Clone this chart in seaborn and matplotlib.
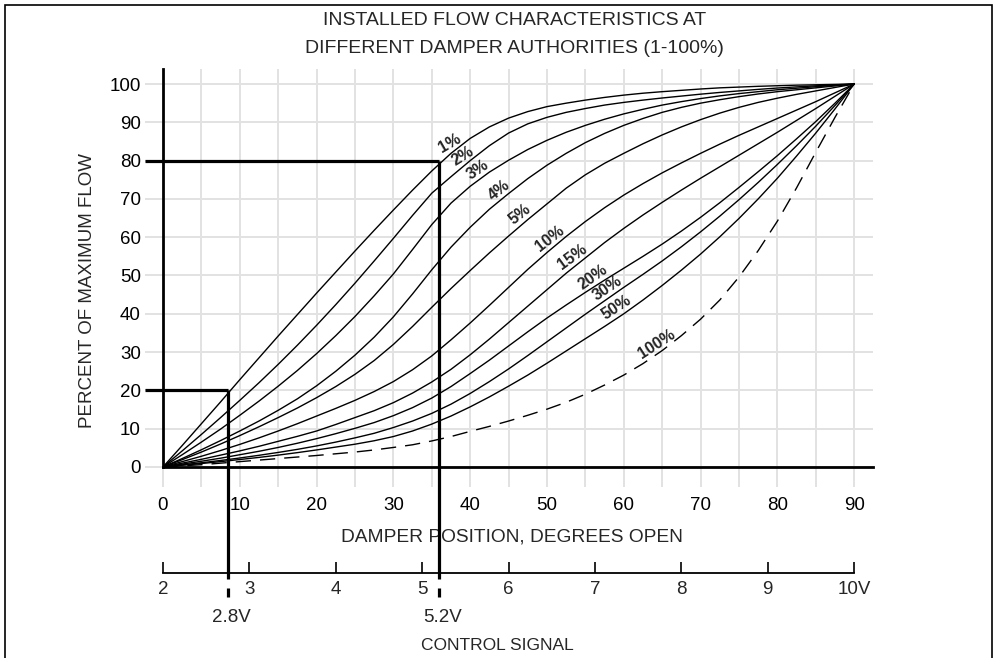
import numpy as np
import pandas as pd
import seaborn as sns
import matplotlib.pyplot as plt
from matplotlib.patches import Rectangle
from matplotlib.transforms import blended_transform_factory

# damper position (degrees open) at which the curves were read
degrees = [0, 2.5, 5, 7.5, 10, 12.5, 15, 17.5, 20, 22.5, 25, 27.5, 30, 32.5, 35, 37.5,
           40, 42.5, 45, 47.5, 50, 52.5, 55, 57.5, 60, 62.5, 65, 67.5, 70, 72.5, 75,
           77.5, 80, 82.5, 85, 87.5, 90]

# percent of maximum flow, one list per damper authority
flow_1 = [0, 5.6, 11.3, 17.0, 22.8, 28.5, 34.2, 39.8, 45.4, 50.9, 56.4, 61.8, 67.1, 72.3,
          77.3, 81.9, 85.8, 88.8, 91.1, 92.8, 94.1, 95.0, 95.8, 96.5, 97.1, 97.6, 98.0,
          98.35, 98.7, 99.0, 99.2, 99.4, 99.55, 99.7, 99.8, 99.9, 100]
flow_2 = [0, 4.2, 8.5, 12.9, 17.4, 22.0, 26.8, 31.8, 37.0, 42.4, 48.0, 53.8, 59.7, 65.7,
          71.5, 75.8, 80.0, 83.9, 87.2, 89.6, 91.3, 92.6, 93.6, 94.5, 95.2, 95.8, 96.35,
          96.85, 97.35, 97.8, 98.2, 98.6, 98.95, 99.25, 99.53, 99.78, 100]
flow_3 = [0, 3.2, 6.5, 9.9, 13.5, 17.2, 21.1, 25.2, 29.6, 34.3, 39.3, 44.7, 50.4, 56.8,
          63.3, 68.9, 73.3, 77.0, 80.1, 82.9, 85.3, 87.4, 89.2, 90.8, 92.2, 93.4, 94.5,
          95.4, 96.2, 96.9, 97.5, 98.0, 98.5, 98.9, 99.3, 99.65, 100]
flow_4 = [0, 2.2, 4.5, 6.9, 9.4, 12.0, 14.8, 17.8, 21.2, 25.0, 29.2, 33.9, 39.2, 45.2,
          51.5, 57.4, 62.6, 67.3, 71.4, 75.3, 78.8, 81.9, 84.7, 87.1, 89.2, 91.0, 92.6,
          93.9, 95.0, 95.9, 96.7, 97.4, 98.0, 98.5, 99.0, 99.5, 100]
flow_5 = [0, 1.9, 3.9, 6.0, 8.2, 10.5, 12.9, 15.4, 18.1, 21.0, 24.2, 27.8, 32.0, 36.7,
          41.7, 46.6, 51.3, 55.9, 60.3, 64.6, 68.7, 72.8, 76.3, 79.3, 81.9, 84.4, 86.7,
          88.8, 90.7, 92.4, 93.9, 95.2, 96.3, 97.3, 98.2, 99.1, 100]
flow_10 = [0, 1.4, 2.8, 4.3, 5.9, 7.6, 9.4, 11.3, 13.3, 15.3, 17.4, 19.7, 22.3, 25.4,
           29.0, 33.2, 37.6, 42.2, 46.9, 51.6, 56.0, 60.2, 64.1, 67.7, 71.0, 74.0, 76.8,
           79.4, 81.9, 84.3, 86.6, 88.8, 91.0, 93.2, 95.4, 97.7, 100]
flow_15 = [0, 1.0, 2.0, 3.1, 4.2, 5.4, 6.7, 8.0, 9.4, 11.1, 12.9, 14.7, 16.8, 19.3,
           22.2, 25.5, 29.3, 33.4, 37.7, 42.0, 46.3, 50.6, 54.6, 58.6, 62.3, 65.8, 69.1,
           72.3, 75.4, 78.4, 81.4, 84.4, 87.4, 90.5, 93.6, 96.8, 100]
flow_20 = [0, 0.75, 1.5, 2.3, 3.2, 4.1, 5.1, 6.2, 7.4, 8.7, 10.1, 11.6, 13.4, 15.5,
           18.0, 21.0, 24.4, 27.9, 31.6, 35.3, 38.9, 42.3, 45.6, 48.8, 51.9, 55.0, 58.2,
           61.6, 65.2, 69.0, 73.0, 77.1, 81.3, 85.7, 90.2, 95.0, 100]
flow_30 = [0, 0.55, 1.1, 1.7, 2.35, 3.05, 3.8, 4.6, 5.5, 6.5, 7.6, 8.8, 10.3, 12.0,
           14.0, 16.4, 19.2, 22.3, 25.6, 29.1, 32.7, 36.3, 39.9, 43.4, 46.9, 50.3, 53.8,
           57.5, 61.4, 65.5, 69.8, 74.3, 79.0, 83.9, 89.0, 94.4, 100]
flow_50 = [0, 0.45, 0.9, 1.4, 1.95, 2.5, 3.1, 3.75, 4.45, 5.2, 5.95, 6.85, 7.95, 9.4,
           11.2, 13.3, 15.7, 18.3, 21.1, 24.0, 27.1, 30.3, 33.5, 36.7, 40.0, 43.6, 47.4,
           51.4, 55.6, 60.1, 64.9, 70.0, 75.4, 81.2, 87.2, 93.5, 100]
flow_100 = [0, 0.3, 0.6, 1.0, 1.4, 1.8, 2.2, 2.6, 3.0, 3.45, 3.9, 4.45, 5.1, 5.8,
            6.8, 7.95, 9.3, 10.6, 12.0, 13.5, 15.1, 16.9, 19.0, 21.4, 24.0, 27.0, 30.4,
            34.3, 38.6, 43.6, 49.6, 56.5, 64.2, 72.9, 82.2, 91.3, 100]

authorities = ['1%', '2%', '3%', '4%', '5%', '10%', '15%', '20%', '30%', '50%', '100%']
flows = [flow_1, flow_2, flow_3, flow_4, flow_5, flow_10, flow_15, flow_20, flow_30,
         flow_50, flow_100]

# the two worked examples on the 1% curve
example_flow = [20, 80]
example_degrees = [8.5, 36]
example_signal = ['2.8V', '5.2V']

# control signal scale (2-10 V over 0-90 degrees)
signal_volts = [2, 3, 4, 5, 6, 7, 8, 9, 10]
signal_labels = ['2', '3', '4', '5', '6', '7', '8', '9', '10V']

df = pd.DataFrame({
    'degrees': degrees * len(authorities),
    'flow': [v for f in flows for v in f],
    'authority': np.repeat(authorities, len(degrees)),
})

sns.set_theme(style='white')
plt.rcParams['font.family'] = ['Liberation Sans', 'DejaVu Sans']

fig = plt.figure(figsize=(10, 6.58), dpi=100)
ax = fig.add_axes([0.163, 0.2903, 0.7104, 0.6053])
ax.set_xlim(0, 92.5)
ax.set_ylim(0, 104)

grid_c = '#e2e2e2'
ax.set_axisbelow(True)
ax.set_xticks(range(0, 91, 10))
ax.set_xticks(range(5, 91, 10), minor=True)
ax.set_yticks(range(0, 101, 10))
ax.grid(True, which='both', color=grid_c, linewidth=1.4)
ax.tick_params(axis='x', which='both', bottom=True, direction='out', length=14.5,
               width=1.4, color=grid_c, pad=7, labelsize=13.5, labelcolor='black')
ax.tick_params(axis='y', left=True, direction='out', length=13, width=1.4,
               color=grid_c, pad=3, labelsize=13.5, labelcolor='black')
sns.despine(ax=ax)
for s in ['left', 'bottom']:
    ax.spines[s].set_color('black')
    ax.spines[s].set_linewidth(2.0)

# curves
solid = df[df['authority'] != '100%']
sns.lineplot(data=solid, x='degrees', y='flow', units='authority', estimator=None,
             color='black', linewidth=1.0, ax=ax)
sns.lineplot(data=df[df['authority'] == '100%'], x='degrees', y='flow',
             color='black', linewidth=1.0, linestyle=(0, (11, 6.5)), ax=ax)

# curve labels: sit just above each curve at the given position, with a fixed tilt
label_deg = [37.9, 39.6, 41.6, 44.45, 47.2, 51.1, 54.0, 56.6, 58.5, 59.7, 64.9]
label_rot = [30, 32, 34, 38, 38, 38, 36, 35, 34, 33, 33]
for name, flow, d, rot in zip(authorities, flows, label_deg, label_rot):
    r = np.radians(rot)
    off = 6.3
    ax.annotate(name, (d, np.interp(d, degrees, flow)),
                xytext=(-off * np.sin(r), off * np.cos(r)), textcoords='offset points',
                rotation=rot, rotation_mode='anchor', ha='center', va='center',
                fontsize=11.5, fontweight='bold')

# control signal axis
sig_loc = -0.266
v0, v1 = signal_volts[0], signal_volts[-1]
deg_max = degrees[-1]
sec = ax.secondary_xaxis(sig_loc, functions=(lambda x: v0 + x * (v1 - v0) / deg_max,
                                             lambda v: (v - v0) * deg_max / (v1 - v0)))
sec.set_xticks(signal_volts, signal_labels)
sec.tick_params(bottom=True, direction='in', length=8, width=1.2, color='black',
                pad=6, labelsize=13.5)
sec.spines['bottom'].set_linewidth(1.3)
sec.spines['bottom'].set_color('black')
sec.spines['bottom'].set_bounds(v0, v1)

# bold example lines
span = 104
px_per_deg = ax.transData.transform((1, 0))[0] - ax.transData.transform((0, 0))[0]
x_left = -13 * (100 / 72) / px_per_deg
for f, d in zip(example_flow, example_degrees):
    kw = dict(color='black', linewidth=2.3, clip_on=False, solid_capstyle='butt')
    ax.plot([x_left, d], [f, f], **kw)
    ax.plot([d, d], [f, (sig_loc - 0.015) * span], **kw)
    ax.plot([d, d], [(sig_loc - 0.038) * span, (sig_loc - 0.060) * span], **kw)

trans = blended_transform_factory(ax.transData, ax.transAxes)
for d, s in zip(example_degrees, example_signal):
    ax.text(d + 0.4, -0.377, s, transform=trans, ha='center', va='center', fontsize=13.5)

ax.text(0.47, -0.447, 'CONTROL SIGNAL', transform=ax.transAxes, ha='center',
        va='center', fontsize=12.5)

ax.set_xlabel('DAMPER POSITION, DEGREES OPEN', fontsize=13.8)
ax.xaxis.label.set_va('center')
ax.xaxis.set_label_coords(0.4916, -0.176)
ax.set_ylabel('PERCENT OF MAXIMUM FLOW', fontsize=13.5)
ax.yaxis.label.set_va('center')
ax.yaxis.set_label_coords(-0.106, 0.444)

fig.text(0.5145, 1 - 34.5 / 658,
         'INSTALLED FLOW CHARACTERISTICS AT\nDIFFERENT DAMPER AUTHORITIES (1-100%)',
         ha='center', va='center', fontsize=14, linespacing=1.85)

fig.patches.append(Rectangle((0.005, -0.01), 0.987, 1.0024, transform=fig.transFigure,
                             fill=False, edgecolor='black', linewidth=1.2))

fig.savefig('out.png', dpi=100)
